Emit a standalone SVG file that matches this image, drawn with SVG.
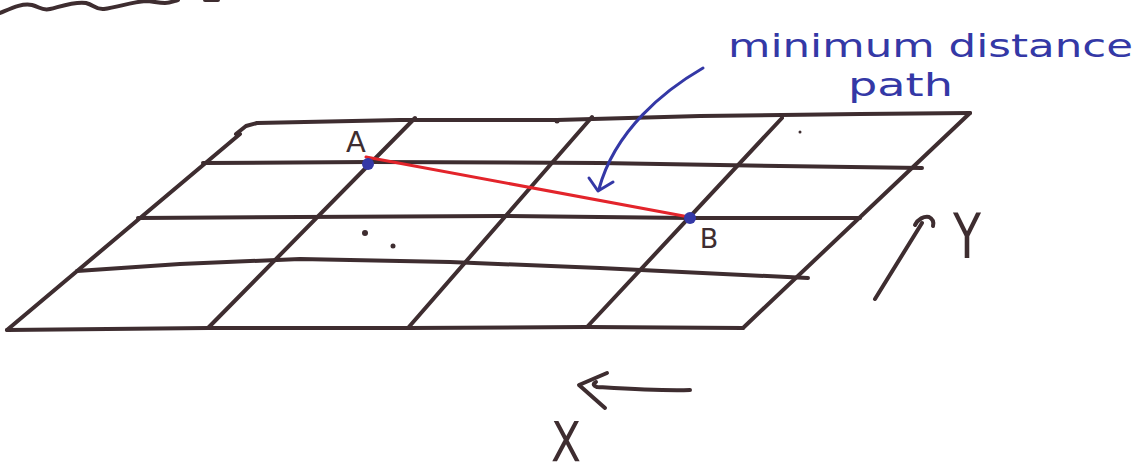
<svg xmlns="http://www.w3.org/2000/svg" width="1145" height="476" viewBox="0 0 1145 476">
<style>
.ink{fill:none;stroke:#3e2d30;stroke-width:4;stroke-linecap:round;stroke-linejoin:round}
.blue{fill:none;stroke:#3438a6;stroke-width:3;stroke-linecap:round;stroke-linejoin:round}
.lbl{font-family:"DejaVu Sans",sans-serif;fill:#3e2d30}
.note{font-family:"DejaVu Sans",sans-serif;fill:#3438a6;font-size:32px}
.dot{fill:#3e2d30}
</style>
<rect width="1145" height="476" fill="#ffffff"/>
<path class="ink" d="M0,13 C12,8 22,3 32,5 C40,7 42,11 50,9 C62,6 76,1 86,3 C94,5 96,10 104,9 C118,7 132,2 146,1 C152,1 158,3 165,3 C170,3 174,1 178,0 M205,0 L218,0" stroke-width="5"/>
<g id="grid">
<polyline class="ink" points="236,134 246,126 257,123 400,120 557,120 700,116 860,114 970,113"/>
<polyline class="ink" points="7,330 240,134"/>
<polyline class="ink" points="203,163 370,162 600,163 780,166 922,168"/>
<polyline class="ink" points="138,218 300,217 500,216 690,218 860,218"/>
<polyline class="ink" points="77,271 180,264 300,259 450,262 600,268 808,278"/>
<polyline class="ink" points="7,330 208,328 408,328 587,327 743,328"/>
<polyline class="ink" points="970,113 743,328"/>
<polyline class="ink" points="415,118 208,328"/>
<polyline class="ink" points="592,117 408,328"/>
<polyline class="ink" points="782,118 587,327"/>
<circle class="dot" cx="557" cy="121" r="2.5"/>
<circle class="dot" cx="800" cy="132" r="1.5"/>
<circle class="dot" cx="365" cy="233" r="3"/>
<circle class="dot" cx="393" cy="246" r="2.5"/>
</g>
<g id="connectors">
<line x1="366" y1="157" x2="689" y2="217" stroke="#e3242b" stroke-width="3" stroke-linecap="round"/>
<path class="blue" d="M703,68 C665,90 615,130 599,189"/>
<polyline class="blue" points="589,178 598,191 613,182"/>
<path class="ink" d="M875,299 L922,223" stroke-width="3"/>
<path class="ink" d="M915,225 C918,219 924,216 929,217 C933,219 934,222 933,226" stroke-width="3"/>
<path class="ink" d="M690,390 C660,391 630,389 597,387 C594,386 592,384 596,382" stroke-width="3"/>
<polyline class="ink" points="607,373 579,385 605,408" stroke-width="3"/>
</g>
<g id="nodeA">
<circle cx="368" cy="164" r="6" fill="#3438a6"/>
<text class="lbl" x="356" y="152" font-size="29" text-anchor="middle">A</text>
</g>
<g id="nodeB">
<circle cx="690" cy="218" r="6" fill="#3438a6"/>
<text class="lbl" x="709" y="248" font-size="27" text-anchor="middle">B</text>
</g>
<g id="labelY">
<text class="lbl" x="953" y="258" font-size="62" textLength="28" lengthAdjust="spacingAndGlyphs">Y</text>
</g>
<g id="labelX">
<text class="lbl" x="551" y="461" font-size="56" textLength="30" lengthAdjust="spacingAndGlyphs">X</text>
</g>
<g id="note">
<text class="note" x="728" y="57" textLength="405" lengthAdjust="spacingAndGlyphs">minimum distance</text>
<text class="note" x="848" y="96" textLength="105" lengthAdjust="spacingAndGlyphs">path</text>
</g>
</svg>
